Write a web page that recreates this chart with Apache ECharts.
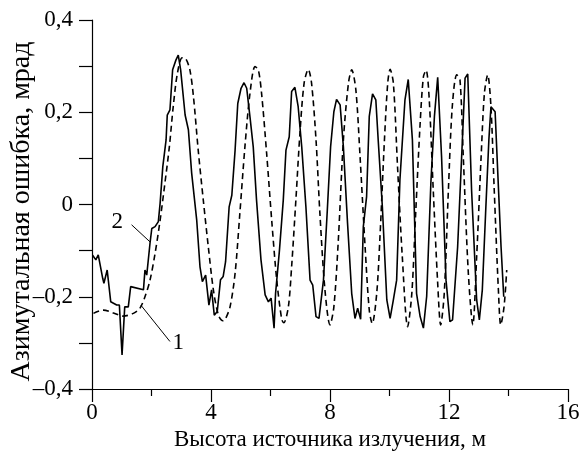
<!DOCTYPE html>
<html>
<head>
<meta charset="utf-8">
<script src="https://cdn.jsdelivr.net/npm/echarts@6/dist/echarts.min.js"></script>
<style>
html,body{margin:0;padding:0;background:#fff;}
#chart{width:579px;height:460px;}
</style>
</head>
<body>
<div id="chart"></div>
<script>
// кривая 2 (сплошная) - измерения
var solidX = [0.02,0.13,0.21,0.36,0.40,0.51,0.63,0.83,0.92,1.01,1.10,1.22,1.30,1.73,1.78,1.84,1.95,2.01,2.12,2.23,2.29,2.38,2.49,2.53,2.62,2.71,2.82,2.90,2.98,3.13,3.24,3.35,3.52,3.63,3.71,3.82,3.93,4.02,4.11,4.21,4.32,4.41,4.49,4.61,4.70,4.81,4.90,5.01,5.11,5.20,5.31,5.42,5.53,5.68,5.82,5.93,6.02,6.12,6.17,6.30,6.43,6.52,6.63,6.71,6.82,6.93,7.05,7.19,7.33,7.42,7.53,7.63,7.78,7.91,8.02,8.13,8.22,8.34,8.45,8.59,8.73,8.84,8.93,9.03,9.12,9.23,9.32,9.43,9.54,9.62,9.76,9.91,10.02,10.13,10.24,10.35,10.52,10.63,10.77,10.91,11.03,11.14,11.25,11.39,11.51,11.62,11.75,11.90,12.03,12.12,12.29,12.45,12.54,12.63,12.76,12.93,13.02,13.12,13.23,13.34,13.41,13.46,13.55,13.64,13.75,13.84];
var solidY = [-0.11,-0.12,-0.109,-0.16,-0.171,-0.142,-0.211,-0.218,-0.218,-0.326,-0.222,-0.222,-0.178,-0.185,-0.142,-0.153,-0.084,-0.052,-0.048,-0.037,0.003,0.082,0.140,0.194,0.205,0.292,0.313,0.324,0.292,0.194,0.162,0.068,-0.034,-0.135,-0.167,-0.153,-0.218,-0.185,-0.240,-0.232,-0.163,-0.156,-0.124,-0.005,0.020,0.118,0.219,0.252,0.264,0.252,0.190,0.125,0.010,-0.120,-0.196,-0.211,-0.203,-0.268,-0.193,-0.10,0.010,0.118,0.147,0.245,0.254,0.212,0.125,-0.005,-0.164,-0.175,-0.243,-0.247,-0.164,-0.012,0.125,0.201,0.228,0.216,0.125,-0.041,-0.193,-0.247,-0.225,-0.249,-0.048,0.017,0.191,0.240,0.227,0.140,-0.005,-0.207,-0.247,-0.207,-0.164,0.053,0.227,0.271,0.140,-0.193,-0.243,-0.268,-0.199,0.046,0.191,0.276,0.104,-0.164,-0.254,-0.250,-0.092,0.140,0.274,0.283,0.030,-0.207,-0.250,-0.185,-0.019,0.140,0.212,0.209,0.201,0.068,-0.092,-0.20];

// кривая 1 (штриховая) - расчёт
var dashX = [0.05,0.38,0.72,1.05,1.39,1.61,1.78,1.95,2.12,2.29,2.45,2.60,2.73,2.87,3.03,3.15,3.29,3.41,3.57,3.74,3.91,4.08,4.25,4.40,4.47,4.64,4.81,4.97,5.14,5.31,5.48,5.59,5.70,5.87,6.04,6.21,6.38,6.45,6.60,6.71,6.86,6.99,7.13,7.27,7.38,7.53,7.66,7.83,8.00,8.13,8.28,8.45,8.62,8.73,8.87,9.01,9.18,9.32,9.42,9.57,9.68,9.83,9.94,10.02,10.13,10.27,10.43,10.61,10.75,10.88,11.03,11.14,11.23,11.33,11.47,11.62,11.72,11.84,11.98,12.11,12.26,12.37,12.48,12.65,12.80,12.93,13.08,13.19,13.30,13.41,13.52,13.66,13.74,13.85,13.94];
var dashY = [-0.236,-0.229,-0.235,-0.242,-0.236,-0.225,-0.200,-0.164,-0.106,-0.034,0.046,0.125,0.212,0.284,0.318,0.316,0.292,0.234,0.118,0.010,-0.092,-0.185,-0.240,-0.252,-0.250,-0.222,-0.149,-0.019,0.125,0.241,0.299,0.292,0.241,0.111,-0.034,-0.164,-0.250,-0.256,-0.222,-0.135,0.017,0.155,0.263,0.293,0.263,0.140,-0.019,-0.185,-0.261,-0.222,-0.077,0.140,0.263,0.292,0.248,0.104,-0.092,-0.229,-0.258,-0.193,-0.070,0.140,0.263,0.293,0.263,0.082,-0.113,-0.265,-0.193,-0.019,0.176,0.277,0.291,0.234,0.032,-0.171,-0.261,-0.193,0.032,0.212,0.281,0.270,0.104,-0.149,-0.261,-0.113,0.104,0.241,0.281,0.212,0.032,-0.185,-0.261,-0.222,-0.142];

// подписи кривых и выноски
var curveNames = ['1', '2'];
var namePos = [[2.90, -0.300], [0.85, -0.038]];
var leader1 = [[1.64, -0.218], [2.62, -0.297]];
var leader2 = [[1.33, -0.044], [1.95, -0.081]];

var xTicks = {min: 0, max: 16, step: 4};
var yTicks = {min: -0.4, max: 0.4, step: 0.2};

function zip(a, b) {
	var r = [];
	for (var i = 0; i < a.length; i++) r.push([a[i], b[i]]);
	return r;
}

var FONT = 'Liberation Serif';

var myChart = echarts.init(document.getElementById('chart'));
var option = {
	animation: false,
	backgroundColor: '#fff',
	grid: {
		left: 92,
		right: 11,
		top: 20,
		bottom: 71,
		containLabel: false,
		outerBoundsMode: 'none'
	},
	xAxis: {
		type: 'value',
		min: xTicks.min,
		max: xTicks.max,
		interval: xTicks.step,
		name: 'Высота источника излучения, м',
		nameLocation: 'middle',
		nameGap: 39,
		nameTextStyle: {color: '#000', fontSize: 23, fontFamily: FONT},
		axisLine: {onZero: false, lineStyle: {color: '#000', width: 1.2}},
		axisTick: {length: 13, lineStyle: {color: '#000', width: 1.2}},
		minorTick: {show: true, splitNumber: 2, length: 7, lineStyle: {color: '#000', width: 1.2}},
		splitLine: {show: false},
		axisLabel: {color: '#000', fontSize: 23, fontFamily: FONT, margin: 12}
	},
	yAxis: {
		type: 'value',
		min: yTicks.min,
		max: yTicks.max,
		interval: yTicks.step,
		name: 'Азимутальная ошибка, мрад',
		nameLocation: 'middle',
		nameGap: 56,
		nameMoveOverlap: false,
		nameTextStyle: {color: '#000', fontSize: 28, fontFamily: FONT, padding: [0, 14, 0, 0]},
		axisLine: {onZero: false, lineStyle: {color: '#000', width: 1.2}},
		axisTick: {length: 13, lineStyle: {color: '#000', width: 1.2}},
		minorTick: {show: true, splitNumber: 2, length: 13, lineStyle: {color: '#000', width: 1.2}},
		splitLine: {show: false},
		axisLabel: {
			color: '#000', fontSize: 23, fontFamily: FONT, margin: 19,
			formatter: function (v) {
				if (Math.abs(v) < 1e-9) return '0';
				var s = Math.abs(v).toFixed(1).replace('.', ',');
				return v < 0 ? '\u2013' + s : s;
			}
		}
	},
	series: [
		{
			name: '2',
			type: 'line',
			data: zip(solidX, solidY),
			showSymbol: false,
			lineStyle: {color: '#000', width: 1.6}
		},
		{
			name: '1',
			type: 'line',
			data: zip(dashX, dashY),
			showSymbol: false,
			smooth: 0.3,
			lineStyle: {color: '#000', width: 1.6, type: [6, 4]}
		},
		{
			// выноска к кривой 1
			type: 'line',
			data: leader1,
			showSymbol: false,
			lineStyle: {color: '#000', width: 1}
		},
		{
			// выноска к кривой 2
			type: 'line',
			data: leader2,
			showSymbol: false,
			lineStyle: {color: '#000', width: 1}
		}
	]
};
myChart.setOption(option);

// номера кривых - ставим по координатам данных
function placeNames() {
	var els = [];
	for (var i = 0; i < curveNames.length; i++) {
		var p = myChart.convertToPixel({gridIndex: 0}, namePos[i]);
		els.push({
			type: 'text',
			x: p[0],
			y: p[1],
			style: {
				text: curveNames[i],
				fill: '#000',
				font: '23px "' + FONT + '"',
				align: 'center',
				verticalAlign: 'middle'
			}
		});
	}
	myChart.setOption({graphic: els});
}
placeNames();

window.addEventListener('resize', function () {
	myChart.resize();
	placeNames();
});
</script>
</body>
</html>
